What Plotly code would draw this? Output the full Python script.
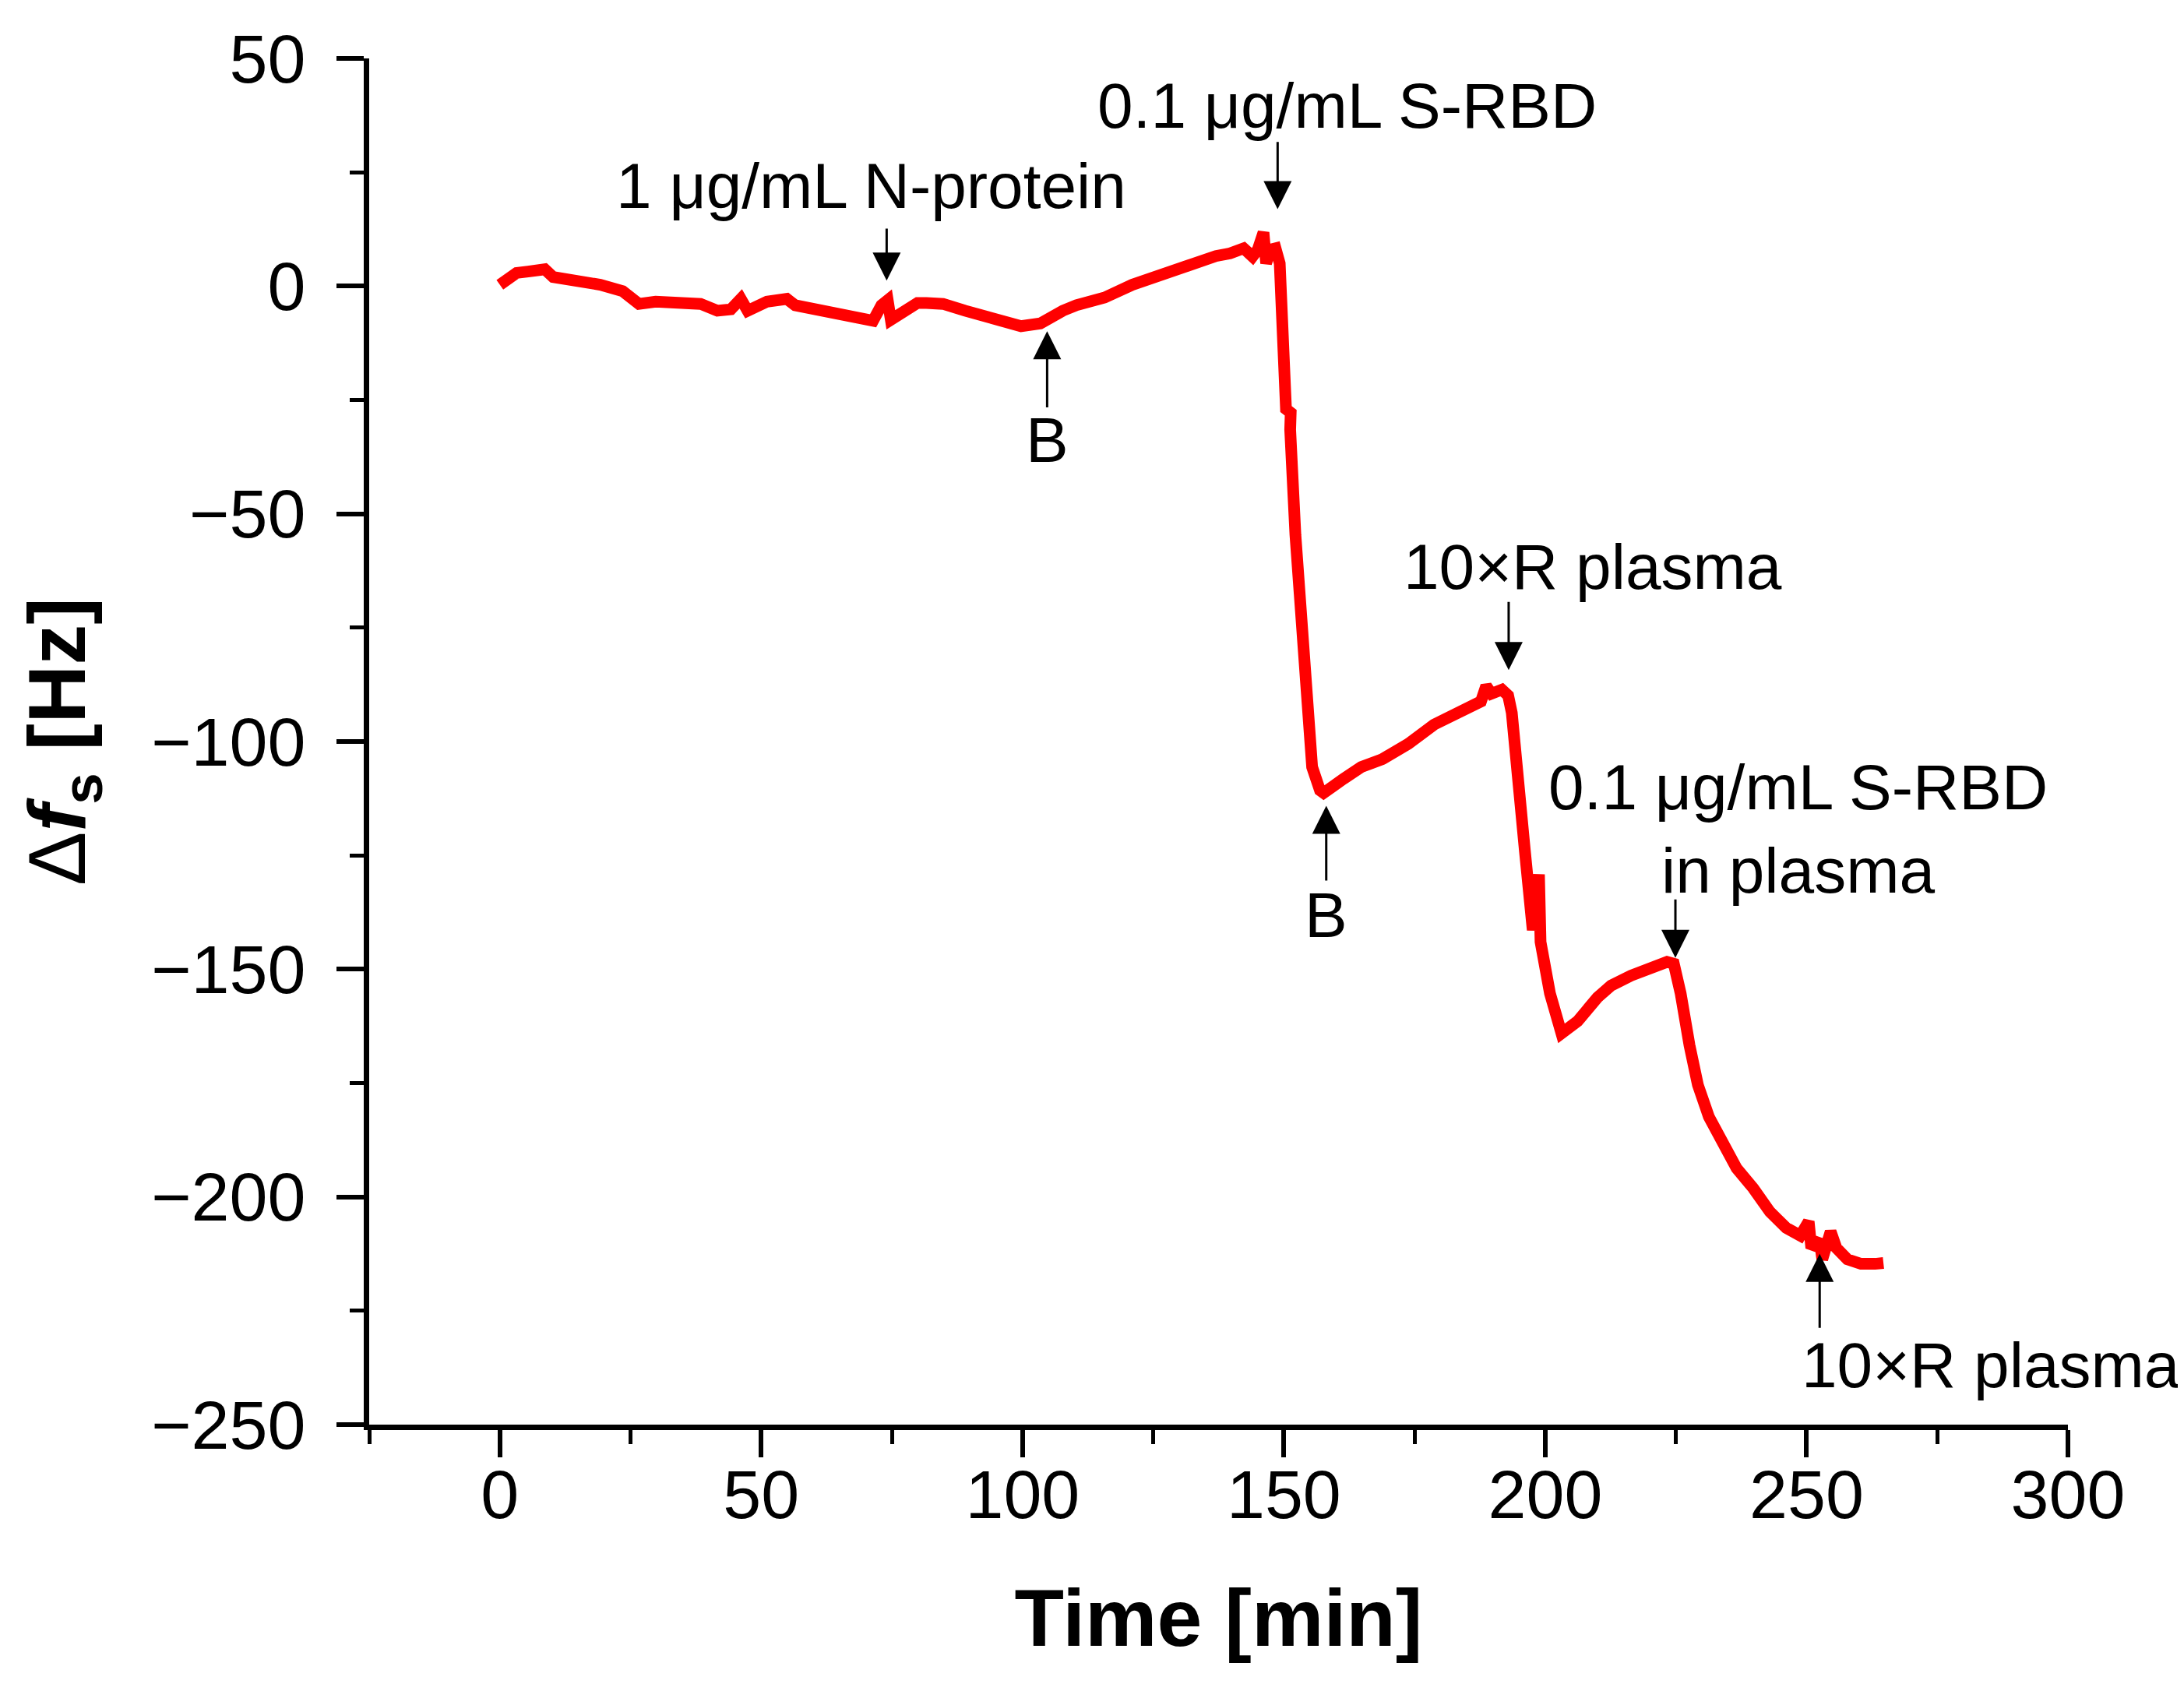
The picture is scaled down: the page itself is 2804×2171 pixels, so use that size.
import plotly.graph_objects as go

# frequency shift trace
time_min = [
    0.0, 3.2, 5.4, 8.6, 10.2, 13.9, 19.2, 23.5, 26.6, 29.8, 35.2, 38.4,
    41.6, 44.2, 46.1, 47.4, 51.1, 54.9, 56.5, 61.8, 67.1, 71.4, 73.0, 74.2,
    74.8, 76.7, 79.9, 81.6, 84.8, 89.0, 92.2, 95.4, 99.7, 103.4, 105.0, 107.7,
    110.3, 115.7, 121.0, 126.4, 131.7, 137.0, 139.7, 142.3, 144.0, 145.0, 146.1, 146.6,
    147.4, 148.4, 149.2, 149.6, 150.4, 151.3, 151.2, 152.2, 153.6, 154.6, 155.4, 156.9,
    157.6, 161.4, 164.8, 168.8, 173.8, 178.7, 183.7, 187.7, 188.7, 189.7, 191.7, 192.9,
    193.6, 194.6, 196.1, 197.6, 198.8, 199.1, 200.9, 203.1, 206.2, 210.0, 212.6, 216.4,
    220.6, 223.3, 224.6, 225.9, 227.6, 229.2, 231.3, 233.9, 236.6, 239.8, 243.0, 246.1,
    248.8, 250.4, 250.9, 252.5, 253.0, 254.6, 255.7, 257.8, 260.4, 263.1, 264.7,
]
delta_fs = [
    0.3, 2.9, 3.2, 3.7, 2.0, 1.5, 0.3, -1.1, -3.9, -3.4, -3.4, -3.9,
    -5.4, -5.1, -2.8, -5.4, -3.4, -2.8, -4.2, -5.4, -6.5, -7.6, -4.2, -3.1,
    -7.4, -6.0, -3.7, -3.7, -3.9, -5.4, -6.5, -7.6, -8.8, -8.2, -7.1, -5.4,
    -4.2, -2.5, 0.3, 2.6, 4.9, 6.6, 7.2, 8.3, 6.5, 8.0, 11.8, 5.0,
    8.0, 8.3, 5.0, -3.6, -27.0, -27.8, -31.5, -54.6, -80.1, -97.1, -105.6, -110.7,
    -111.3, -108.2, -105.6, -103.9, -100.5, -96.3, -93.3, -91.2, -87.8, -89.5, -88.6, -89.9,
    -93.7, -108.0, -124.0, -141.4, -129.2, -144.0, -155.3, -164.1, -161.4, -156.2, -153.6, -151.4,
    -149.2, -148.4, -148.8, -155.3, -166.7, -175.4, -182.4, -188.5, -193.7, -198.1, -203.3, -206.8,
    -208.5, -205.4, -211.2, -209.4, -213.7, -207.6, -211.2, -213.7, -214.7, -214.7, -214.5,
]

# injection arrows: time, tail value, tip value
arrow_t = [74.0, 104.7, 148.8, 193.0, 224.9, 158.1, 252.5]
arrow_tail = [12.9, -26.9, 31.9, -69.1, -134.4, -130.8, -229.0]
arrow_tip = [1.2, -9.9, 16.9, -84.3, -147.5, -114.1, -212.5]

# labels and where they sit (data coords of text centre)
labels = [
    "1 μg/mL N-protein",
    "B",
    "0.1 μg/mL S-RBD",
    "10×R plasma",
    "0.1 μg/mL S-RBD<br>in plasma",
    "B",
    "10×R plasma",
]
label_t = [71.1, 104.7, 162.1, 209.1, 248.4, 158.1, 285.3]
label_v = [22.0, -33.8, 39.6, -61.6, -119.2, -138.0, -237.0]

FONT = "Liberation Sans, Arial, sans-serif"

fig = go.Figure()
fig.add_trace(
    go.Scatter(
        x=time_min,
        y=delta_fs,
        mode="lines",
        line=dict(color="#ff0000", width=15),
        showlegend=False,
    )
)

annotations = []
for t, tail, tip in zip(arrow_t, arrow_tail, arrow_tip):
    annotations.append(
        dict(
            x=t, y=tip, ax=t, ay=tail,
            xref="x", yref="y", axref="x", ayref="y",
            text="", showarrow=True,
            arrowhead=2, arrowsize=2.4, arrowwidth=3, arrowcolor="black",
            standoff=0, startstandoff=0,
        )
    )
for txt, t, v in zip(labels, label_t, label_v):
    annotations.append(
        dict(
            x=t, y=v, xref="x", yref="y", text=txt, showarrow=False,
            xanchor="center", yanchor="middle",
            font=dict(family=FONT, size=82, color="black"),
        )
    )

axis_common = dict(
    showgrid=False,
    zeroline=False,
    showline=True,
    linecolor="black",
    linewidth=7,
    ticks="outside",
    ticklen=35,
    tickwidth=6,
    tickcolor="black",
    tickfont=dict(family=FONT, size=88, color="black"),
    minor=dict(ticks="outside", ticklen=18, tickwidth=5, tickcolor="black", dtick=25),
    mirror=False,
)

fig.update_layout(
    width=2804,
    height=2171,
    paper_bgcolor="white",
    plot_bgcolor="white",
    margin=dict(l=466, r=157, t=67, b=350),
    xaxis=dict(
        range=[-25, 300],
        tick0=0,
        dtick=50,
        ticklabelstandoff=-28,
        title=dict(
            text="<b>Time [min]</b>",
            font=dict(family=FONT, size=104, color="black"),
            standoff=76,
        ),
        **axis_common,
    ),
    yaxis=dict(
        range=[-250, 50],
        tick0=0,
        dtick=50,
        ticklabelstandoff=22,
        title=dict(
            text="Δ<b><i>f</i><sub>s</sub> [Hz]</b>",
            font=dict(family=FONT, size=104, color="black"),
            standoff=52,
        ),
        **axis_common,
    ),
    annotations=annotations,
)

fig.write_html("out.html")
